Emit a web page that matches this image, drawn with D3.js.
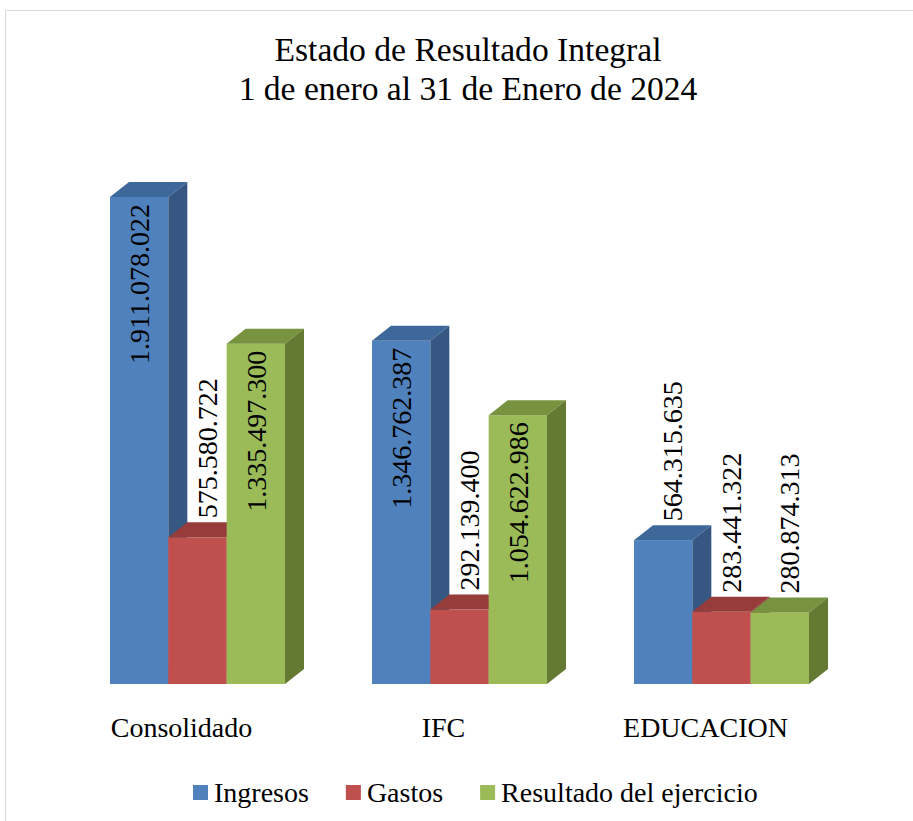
<!DOCTYPE html>
<html>
<head>
<meta charset="utf-8">
<script src="https://cdn.jsdelivr.net/npm/d3@7"></script>
<style>
  body { margin: 0; background: #fff; }
</style>
</head>
<body>
<svg width="913" height="821"></svg>
<script>
var categories = ["Consolidado", "IFC", "EDUCACION"]
var seriesNames = ["Ingresos", "Gastos", "Resultado del ejercicio"]
var ingresos = [1911078022, 1346762387, 564315635]
var gastos = [575580722, 292139400, 283441322]
var resultado = [1335497300, 1054622986, 280874313]
var titleLines = ["Estado de Resultado Integral", "1 de enero al 31 de Enero de 2024"]

var seriesValues = [ingresos, gastos, resultado]
var front = ["#4f81bd", "#c0504d", "#9bbb59"]
var topCol = ["#3e6899", "#963d3b", "#78933f"]
var sideCol = ["#355781", "#8a3936", "#647a33"]

var serif = "'Liberation Serif', Tinos, 'Times New Roman', 'DejaVu Serif', serif"

var svg = d3.select("svg")
    .style("display", "block")
    .attr("font-family", serif)
    .style("font-family", serif)

// chart frame (only top and left edges are visible in the picture)
svg.append("path")
    .attr("d", "M5.5,821 V10.5 H913")
    .attr("fill", "none")
    .attr("stroke", "#d9d9d9")
    .attr("stroke-width", 1)

svg.append("g").selectAll("text")
    .data(titleLines)
    .enter().append("text")
    .attr("x", 468)
    .attr("y", function (d, i) { return 61 + i * 39 })
    .attr("text-anchor", "middle")
    .attr("font-size", 33.6)
    .text(function (d) { return d })

var baseY = 684
var depthX = 19, depthY = -15

var y = d3.scaleLinear().domain([0, 2000000000]).range([baseY, 174.3])
var x0 = d3.scaleBand().domain(categories).range([66.5, 852.5])
    .paddingInner(0.332).paddingOuter(0.166)
var x1 = d3.scaleBand().domain(seriesNames).range([0, x0.bandwidth()])

var fmt = d3.formatLocale({ decimal: ",", thousands: ".", grouping: [3], currency: ["$", ""] }).format(",d")

var bars = []
categories.forEach(function (c, ci) {
    seriesNames.forEach(function (s, si) {
        bars.push({ cat: c, ser: s, si: si, value: seriesValues[si][ci] })
    })
})

var g = svg.append("g")
bars.forEach(function (b) {
    var xl = x0(b.cat) + x1(b.ser)
    var xr = xl + x1.bandwidth()
    var yt = y(b.value)
    var bg = g.append("g")
    // front
    bg.append("rect")
        .attr("x", xl).attr("y", yt)
        .attr("width", xr - xl).attr("height", baseY - yt)
        .attr("fill", front[b.si])
    // top
    bg.append("path")
        .attr("d", "M" + xl + "," + yt + "L" + (xl + depthX) + "," + (yt + depthY) +
            "L" + (xr + depthX) + "," + (yt + depthY) + "L" + xr + "," + yt + "Z")
        .attr("fill", topCol[b.si])
    // side
    bg.append("path")
        .attr("d", "M" + xr + "," + yt + "L" + (xr + depthX) + "," + (yt + depthY) +
            "L" + (xr + depthX) + "," + (baseY + depthY) + "L" + xr + "," + baseY + "Z")
        .attr("fill", sideCol[b.si])
})

// value labels, rotated; tall bars carry them inside, short ones above
var labels = svg.append("g").attr("font-size", 28)
bars.forEach(function (b) {
    var cx = x0(b.cat) + x1(b.ser) + x1.bandwidth() / 2
    var yt = y(b.value)
    var inside = b.value > 1000000000
    var lx = inside ? cx : cx + depthX / 2
    var ly = inside ? yt + 7 : yt + depthY - 4
    labels.append("text")
        .attr("transform", "translate(" + lx + "," + ly + ") rotate(-90)")
        .attr("dy", "0.35em")
        .attr("text-anchor", inside ? "end" : "start")
        .text(fmt(b.value))
})

// category labels
svg.append("g").selectAll("text")
    .data(categories)
    .enter().append("text")
    .attr("x", function (d) { return x0(d) + x0.bandwidth() / 2 - 16 })
    .attr("y", 737)
    .attr("text-anchor", "middle")
    .attr("font-size", 28)
    .text(function (d) { return d })

// legend
var legend = svg.append("g").attr("font-size", 28)
var lx = 193
seriesNames.forEach(function (s, i) {
    legend.append("rect")
        .attr("x", lx).attr("y", 785)
        .attr("width", 15).attr("height", 15)
        .attr("fill", front[i])
    var t = legend.append("text")
        .attr("x", lx + 21).attr("y", 802)
        .text(s)
    lx += 21 + t.node().getComputedTextLength() + 37
})
</script>
</body>
</html>
